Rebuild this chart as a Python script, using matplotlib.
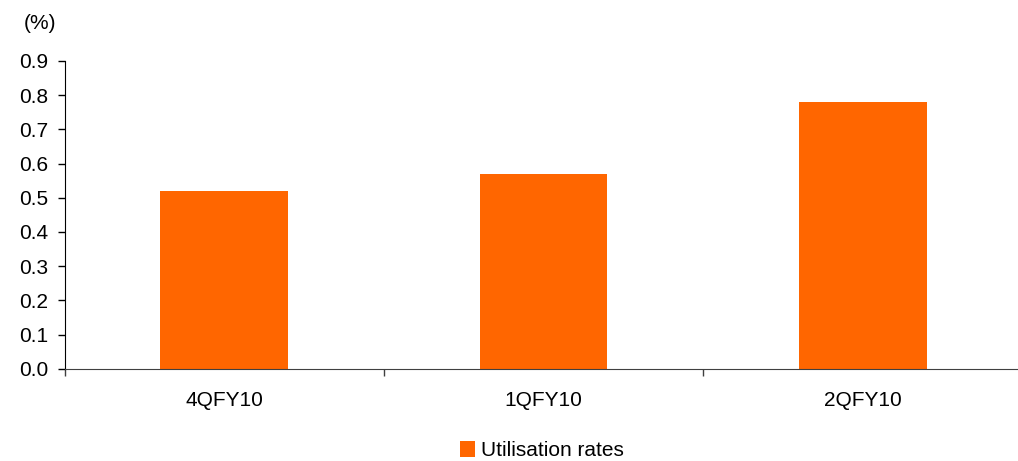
import matplotlib
matplotlib.use("Agg")
import numpy as np
from matplotlib import pyplot as plt

plt.rcParams['font.family'] = ['Liberation Sans', 'DejaVu Sans']

quarters = ["4QFY10", "1QFY10", "2QFY10"]
util_rates = [0.52, 0.57, 0.78]
yticks = [0.0, 0.1, 0.2, 0.3, 0.4, 0.5, 0.6, 0.7, 0.8, 0.9]

fig = plt.figure(figsize=(10.18, 4.61), dpi=100)
ax = fig.add_axes([0.0635, 0.2, 0.941, 0.668])

x = np.arange(len(quarters))
ax.bar(x, util_rates, width=0.4, color="#ff6600", label="Utilisation rates", zorder=2)

ax.set_xlim(-0.5, len(quarters) - 0.5)
ax.set_ylim(0, 0.9)
ax.set_yticks(yticks)
ax.set_yticklabels(["%.1f" % v for v in yticks])

# category labels in the middle, ticks on the boundaries
ax.set_xticks(x)
ax.set_xticklabels(quarters)
ax.set_xticks(np.arange(len(quarters) + 1) - 0.5, minor=True)
ax.tick_params(axis="x", which="major", length=0, pad=16, labelsize=15)
ax.tick_params(axis="x", which="minor", length=5, width=1, direction="out", color="#404040")
ax.tick_params(axis="y", length=5, width=1, direction="out", pad=7, labelsize=15)

for s in ["top", "right"]:
    ax.spines[s].set_visible(False)
ax.spines["left"].set_color("black")
ax.spines["bottom"].set_color("#404040")

fig.text(0.039, 0.948, "(%)", fontsize=15, ha="center", va="center")

fig.legend(loc="center", bbox_to_anchor=(0.532, 0.022), frameon=False, fontsize=15,
           handlelength=0.75, handleheight=0.75, handletextpad=0.25, borderpad=0)

fig.savefig("out.png", dpi=100)
